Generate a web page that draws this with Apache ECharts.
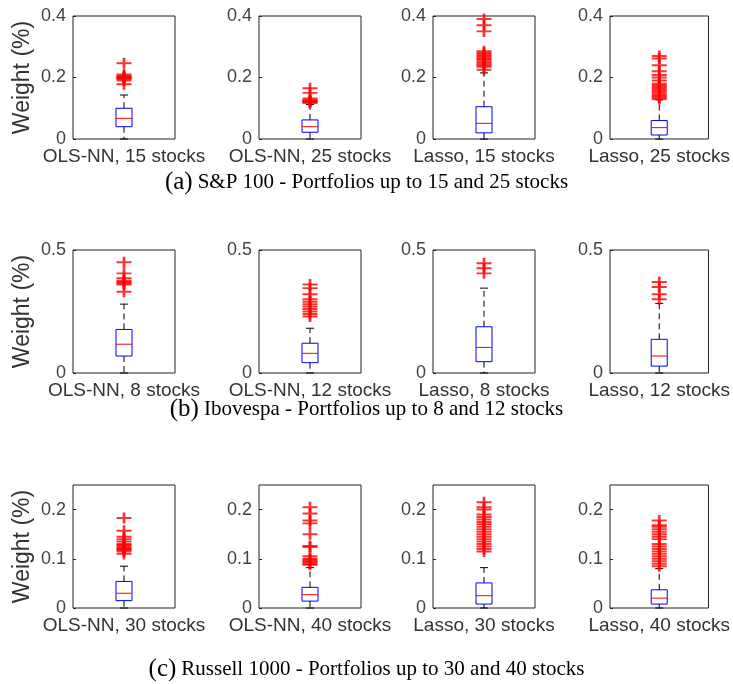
<!DOCTYPE html>
<html>
<head>
<meta charset="utf-8">
<script src="https://cdn.jsdelivr.net/npm/echarts@6/dist/echarts.min.js"></script>
<style>
  html, body { margin: 0; padding: 0; background: #fff; }
  #chart { width: 733px; height: 684px; }
</style>
</head>
<body>
<div id="chart"></div>
<script>
// panel labels, row by row
const panelLabels = [
  'OLS-NN, 15 stocks', 'OLS-NN, 25 stocks', 'Lasso, 15 stocks', 'Lasso, 25 stocks',
  'OLS-NN, 8 stocks', 'OLS-NN, 12 stocks', 'Lasso, 8 stocks', 'Lasso, 12 stocks',
  'OLS-NN, 30 stocks', 'OLS-NN, 40 stocks', 'Lasso, 30 stocks', 'Lasso, 40 stocks'
]

// [lower whisker, Q1, median, Q3, upper whisker]
const boxStats = [
  [0, 0.040, 0.067, 0.100, 0.143],
  [0, 0.022, 0.040, 0.062, 0.112],
  [0, 0.020, 0.051, 0.105, 0.215],
  [0, 0.013, 0.037, 0.060, 0.127],
  [0, 0.069, 0.117, 0.177, 0.280],
  [0, 0.042, 0.080, 0.121, 0.182],
  [0, 0.046, 0.104, 0.188, 0.345],
  [0, 0.028, 0.069, 0.137, 0.283],
  [0, 0.015, 0.030, 0.054, 0.085],
  [0, 0.014, 0.027, 0.042, 0.082],
  [0, 0.008, 0.025, 0.051, 0.082],
  [0, 0.008, 0.020, 0.037, 0.080]
]

const outlierValues = [
  [0.246, 0.210, 0.205, 0.202, 0.200, 0.198, 0.195, 0.190, 0.178],
  [0.165, 0.150, 0.132, 0.127, 0.124, 0.122, 0.120, 0.117],
  [0.390, 0.370, 0.350, 0.285, 0.280, 0.275, 0.270, 0.265, 0.260, 0.255, 0.250, 0.245, 0.240, 0.235, 0.225],
  [0.270, 0.262, 0.240, 0.220, 0.208, 0.200, 0.190, 0.180, 0.175, 0.170, 0.165, 0.160, 0.155, 0.150, 0.145, 0.140, 0.135, 0.130],
  [0.450, 0.405, 0.385, 0.375, 0.370, 0.365, 0.360, 0.330],
  [0.360, 0.345, 0.320, 0.300, 0.290, 0.280, 0.270, 0.260, 0.250, 0.240, 0.230],
  [0.446, 0.426, 0.405],
  [0.370, 0.350, 0.320, 0.300],
  [0.183, 0.157, 0.145, 0.140, 0.135, 0.130, 0.128, 0.125, 0.122, 0.120, 0.118, 0.115, 0.110],
  [0.205, 0.192, 0.178, 0.172, 0.150, 0.126, 0.124, 0.105, 0.100, 0.098, 0.095, 0.093, 0.090, 0.088],
  [0.215, 0.205, 0.200, 0.190, 0.185, 0.180, 0.175, 0.170, 0.165, 0.160, 0.155, 0.150, 0.145, 0.140, 0.135, 0.130, 0.125, 0.120, 0.115],
  [0.178, 0.168, 0.165, 0.160, 0.155, 0.150, 0.145, 0.140, 0.130, 0.125, 0.120, 0.115, 0.110, 0.105, 0.100, 0.095, 0.090, 0.085]
]

// y axis range per row
const rowMax = [0.4, 0.5, 0.25]
const rowInterval = [0.2, 0.5, 0.1]

const captionTags = ['(a)', '(b)', '(c)']
const captionTexts = [
  'S&P 100 - Portfolios up to 15 and 25 stocks',
  'Ibovespa - Portfolios up to 8 and 12 stocks',
  'Russell 1000 - Portfolios up to 30 and 40 stocks'
]

const colLeft = [73, 259, 433, 610]
const rowTop = [16, 250, 485]
const captionTop = [165, 392, 652]
const plotW = 102
const plotH = 123

const chart = echarts.init(document.getElementById('chart'))

const grid = []
const xAxis = []
const yAxis = []
const series = []

const plusPath = 'path://M0,4.1h10v1.8h-10z M4.1,0h1.8v10h-1.8z'

function renderBox(params, api) {
  const x = api.coord([api.value(0), 0])[0]
  const yMin = api.coord([0, api.value(1)])[1]
  const yQ1 = api.coord([0, api.value(2)])[1]
  const yMed = api.coord([0, api.value(3)])[1]
  const yQ3 = api.coord([0, api.value(4)])[1]
  const yMax = api.coord([0, api.value(5)])[1]
  const half = 8
  const cap = 4
  const dash = { stroke: '#000', lineWidth: 1, lineDash: [6, 4] }
  const solid = { stroke: '#000', lineWidth: 1 }
  return {
    type: 'group',
    children: [
      { type: 'line', shape: { x1: x, y1: yQ3, x2: x, y2: yMax }, style: dash },
      { type: 'line', shape: { x1: x, y1: yQ1, x2: x, y2: yMin }, style: dash },
      { type: 'line', shape: { x1: x - cap, y1: yMax, x2: x + cap, y2: yMax }, style: solid },
      { type: 'line', shape: { x1: x - cap, y1: yMin, x2: x + cap, y2: yMin }, style: solid },
      { type: 'rect', shape: { x: x - half, y: yQ3, width: half * 2, height: yQ1 - yQ3 },
        style: { fill: 'none', stroke: '#0000ff', lineWidth: 1 } },
      { type: 'line', shape: { x1: x - half, y1: yMed, x2: x + half, y2: yMed },
        style: { stroke: '#ff0000', lineWidth: 1 } }
    ]
  }
}

panelLabels.forEach((label, i) => {
  const row = Math.floor(i / 4)
  const col = i % 4
  grid.push({
    left: colLeft[col], top: rowTop[row], width: plotW, height: plotH,
    show: true, borderColor: '#222', borderWidth: 1, backgroundColor: '#fff'
  })
  xAxis.push({
    type: 'category', gridIndex: i, data: [label],
    axisLine: { show: false },
    axisTick: { inside: true, length: 3, alignWithLabel: true, lineStyle: { color: '#222' } },
    axisLabel: { color: '#333', fontSize: 19, fontFamily: 'Liberation Sans', margin: 8 }
  })
  yAxis.push({
    type: 'value', gridIndex: i, min: 0, max: rowMax[row], interval: rowInterval[row],
    name: col === 0 ? 'Weight (%)' : '',
    nameLocation: 'middle', nameGap: 39, nameRotate: 90,
    nameTextStyle: { color: '#333', fontSize: 23, fontFamily: 'Liberation Sans' },
    axisLine: { show: false },
    axisTick: { show: true, inside: true, length: 3, lineStyle: { color: '#222' } },
    splitLine: { show: false },
    axisLabel: { color: '#444', fontSize: 18, fontFamily: 'Liberation Sans', margin: 7, showMaxLabel: row !== 2 }
  })
  series.push({
    type: 'custom', xAxisIndex: i, yAxisIndex: i,
    renderItem: renderBox,
    encode: { x: 0, y: [1, 2, 3, 4, 5] },
    data: [[0].concat(boxStats[i])],
    z: 2
  })
  series.push({
    type: 'scatter', xAxisIndex: i, yAxisIndex: i,
    symbol: plusPath, symbolSize: [15, 11],
    itemStyle: { color: '#ff0000' },
    data: outlierValues[i].map(v => [0, v]),
    z: 3
  })
})

const title = captionTexts.map((t, r) => ({
  text: '{a|' + captionTags[r] + '} {b|' + t + '}',
  left: 'center', top: captionTop[r],
  textStyle: {
    fontWeight: 'normal',
    rich: {
      a: { fontFamily: 'Liberation Serif', fontSize: 25, fontWeight: 'normal', color: '#000' },
      b: { fontFamily: 'Liberation Serif', fontSize: 21, fontWeight: 'normal', color: '#000' }
    }
  }
}))

chart.setOption({
  animation: false,
  title: title,
  grid: grid,
  xAxis: xAxis,
  yAxis: yAxis,
  series: series
})
</script>
</body>
</html>
